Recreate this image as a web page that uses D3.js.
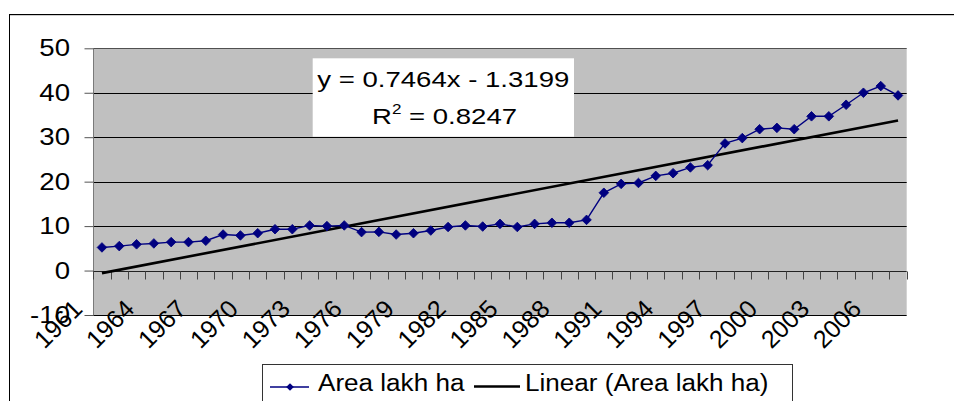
<!DOCTYPE html>
<html>
<head>
<meta charset="utf-8">
<script src="https://cdn.jsdelivr.net/npm/d3@7"></script>
<style>
  body { margin: 0; background: #fff; }
  svg { display: block; }
  text { font-family: "Liberation Sans", Arial, Helvetica, sans-serif; fill: #000; }
</style>
</head>
<body>
<svg id="chart" width="954" height="401"></svg>
<script>
// Area under cultivation, lakh ha, 1961-2007
const years = [1961,1962,1963,1964,1965,1966,1967,1968,1969,1970,
               1971,1972,1973,1974,1975,1976,1977,1978,1979,1980,
               1981,1982,1983,1984,1985,1986,1987,1988,1989,1990,
               1991,1992,1993,1994,1995,1996,1997,1998,1999,2000,
               2001,2002,2003,2004,2005,2006,2007];
const area = [5.2,5.5,5.9,6.1,6.4,6.4,6.7,8.1,7.9,8.4,
              9.3,9.3,10.15,10.0,10.15,8.65,8.7,8.1,8.4,9.0,
              9.8,10.15,9.9,10.5,9.8,10.5,10.75,10.75,11.4,17.5,
              19.5,19.7,21.3,21.9,23.2,23.7,28.6,29.8,31.8,32.1,
              31.8,34.7,34.7,37.3,40.0,41.5,39.4];
const yearLabels = [1961,1964,1967,1970,1973,1976,1979,1982,1985,1988,1991,1994,1997,2000,2003,2006];
const yTicks = [-10,0,10,20,30,40,50];
// Linear trend fitted over the series index (1..n)
const trendSlope = 0.7464;
const trendIntercept = -1.3199;
const rSquared = 0.8247;
const seriesName = "Area lakh ha";
const trendName = "Linear (Area lakh ha)";

const svg = d3.select("#chart");
const plot = { left: 93.3, right: 906.7, top: 48.3, bottom: 315 };

const x = d3.scaleBand().domain(years).range([plot.left, plot.right]).padding(0);
const y = d3.scaleLinear().domain([-10, 50]).range([plot.bottom, plot.top]);
const cx = d => x(d) + x.bandwidth() / 2;

// text with a horizontal stretch
function stretchText(g, str, px, py, size, sx, anchor, extra) {
  return g.append("text")
    .attr("transform", `translate(${px},${py})` + (extra || "") + ` scale(${sx},1)`)
    .attr("text-anchor", anchor)
    .style("font-size", size + "px")
    .text(str);
}

// chart area frame
svg.append("rect").attr("x", 9.5).attr("y", 14.5).attr("width", 960).attr("height", 400)
  .attr("fill", "#fff").attr("stroke", "#000").attr("stroke-width", 1);
svg.append("line").attr("x1", 10).attr("x2", 954).attr("y1", 15.5).attr("y2", 15.5)
  .attr("stroke", "#cfcfcf");

// plot area
svg.append("rect")
  .attr("x", plot.left).attr("y", plot.top)
  .attr("width", plot.right - plot.left).attr("height", plot.bottom - plot.top)
  .attr("fill", "#c0c0c0");

// gridlines
svg.append("g").selectAll("line").data(yTicks.filter(v => v !== 0)).join("line")
  .attr("x1", plot.left).attr("x2", plot.right)
  .attr("y1", d => Math.round(y(d)) + 0.5).attr("y2", d => Math.round(y(d)) + 0.5)
  .attr("stroke", d => d === 50 ? "#505050" : "#000").attr("stroke-width", 1);

// y axis
const yAxis = svg.append("g").attr("transform", `translate(${Math.round(plot.left) + 0.5},0)`)
  .call(d3.axisLeft(y).tickValues(yTicks).tickSize(9).tickFormat(""));
yAxis.select(".domain").attr("stroke", "#7a7a7a").attr("d", `M0,${plot.top}V${plot.bottom}`);
yAxis.selectAll(".tick line").attr("stroke", "#555");
const yl = svg.append("g");
yTicks.forEach(v => stretchText(yl, String(v), 70, y(v) + 8, 23, 1.2, "end"));

// x axis along zero
const y0 = Math.round(y(0)) + 0.5;
svg.append("line").attr("x1", plot.left).attr("x2", plot.right)
  .attr("y1", y0).attr("y2", y0).attr("stroke", "#222").attr("stroke-width", 1);
const bounds = years.map(d => x(d)).concat([x(years[years.length - 1]) + x.bandwidth()]);
svg.append("g").selectAll("line").data(bounds).join("line")
  .attr("x1", d => Math.round(d) + 0.5).attr("x2", d => Math.round(d) + 0.5)
  .attr("y1", y0).attr("y2", y0 + 8)
  .attr("stroke", "#444").attr("stroke-width", 1);

// rotated year labels
const xl = svg.append("g");
yearLabels.forEach(yr => stretchText(xl, String(yr), cx(yr) - 18, 310.5, 25, 1, "end", " rotate(-45)"));

// trend line
const n = years.length;
svg.append("line")
  .attr("x1", cx(years[0])).attr("y1", y(trendSlope * 1 + trendIntercept))
  .attr("x2", cx(years[n - 1])).attr("y2", y(trendSlope * n + trendIntercept))
  .attr("stroke", "#000").attr("stroke-width", 2.6);

// series line and markers
const line = d3.line().x((d, i) => cx(years[i])).y(d => y(d));
svg.append("path").datum(area).attr("d", line)
  .attr("fill", "none").attr("stroke", "#000080").attr("stroke-width", 1.4);
const diamond = d3.symbol(d3.symbolSquare, 46);
svg.append("g").selectAll("path").data(area).join("path")
  .attr("d", diamond)
  .attr("transform", (d, i) => `translate(${cx(years[i])},${y(d)}) rotate(45)`)
  .attr("fill", "#000080").attr("stroke", "#000080").attr("stroke-width", 0.8);

// equation label
const eq = svg.append("g");
eq.append("rect").attr("x", 312.7).attr("y", 58.3).attr("width", 261.3).attr("height", 78.4).attr("fill", "#fff");
stretchText(eq, `y = ${trendSlope}x - ${Math.abs(trendIntercept)}`, 443.3, 87.3, 22.6, 1.22, "middle");
const r2 = eq.append("text")
  .attr("transform", `translate(444.5,124) scale(1.22,1)`)
  .attr("text-anchor", "middle").style("font-size", "22.6px");
r2.append("tspan").text("R");
r2.append("tspan").attr("dy", -10).style("font-size", "14px").text("2");
r2.append("tspan").attr("dy", 10).text(` = ${rSquared}`);

// legend
const lg = svg.append("g");
lg.append("rect").attr("x", 262.5).attr("y", 364.5).attr("width", 530).attr("height", 60)
  .attr("fill", "#fff").attr("stroke", "#333").attr("stroke-width", 1);
lg.append("line").attr("x1", 270).attr("x2", 309).attr("y1", 387).attr("y2", 387)
  .attr("stroke", "#000080").attr("stroke-width", 1.4);
lg.append("path").attr("d", d3.symbol(d3.symbolSquare, 30))
  .attr("transform", "translate(290,387) rotate(45)").attr("fill", "#000080");
stretchText(lg, seriesName, 318, 390.5, 23.3, 1.12, "start");
lg.append("line").attr("x1", 474).attr("x2", 520).attr("y1", 386.5).attr("y2", 386.5)
  .attr("stroke", "#000").attr("stroke-width", 2.6);
stretchText(lg, trendName, 525, 390.5, 23.3, 1.12, "start");
</script>
</body>
</html>
